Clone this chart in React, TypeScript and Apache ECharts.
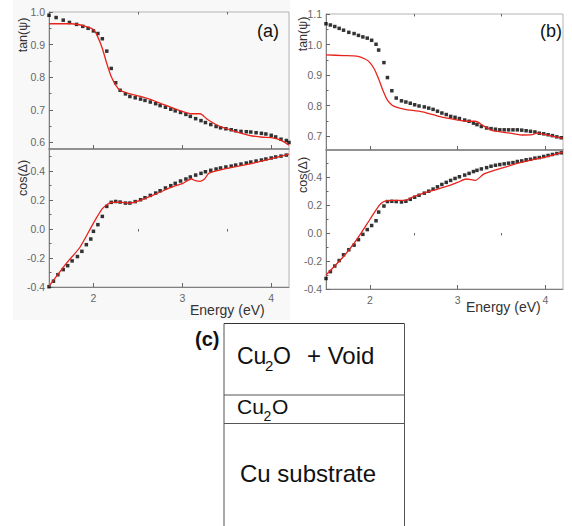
import React, { useEffect, useRef } from "react";
import * as echarts from "echarts";

// ---------- Panel (a) ----------
const aTanDotE = [1.5, 1.58, 1.66, 1.73, 1.81, 1.88, 1.94, 2.0, 2.05, 2.1, 2.15, 2.2, 2.25, 2.3, 2.36, 2.41, 2.47, 2.53, 2.58, 2.64, 2.7, 2.75, 2.81, 2.87, 2.92, 2.98, 3.04, 3.09, 3.15, 3.21, 3.26, 3.32, 3.38, 3.43, 3.49, 3.55, 3.6, 3.66, 3.72, 3.77, 3.83, 3.89, 3.94, 4.0, 4.05, 4.11, 4.17, 4.2];
const aTanDotV = [0.99, 0.983, 0.975, 0.968, 0.962, 0.956, 0.95, 0.942, 0.934, 0.918, 0.88, 0.827, 0.783, 0.76, 0.749, 0.741, 0.737, 0.733, 0.729, 0.724, 0.719, 0.713, 0.708, 0.702, 0.697, 0.692, 0.686, 0.68, 0.673, 0.667, 0.661, 0.655, 0.649, 0.645, 0.642, 0.639, 0.636, 0.634, 0.633, 0.632, 0.63, 0.628, 0.626, 0.622, 0.617, 0.61, 0.606, 0.6];
const aTanFitE = [1.5, 1.75, 1.9, 2.0, 2.05, 2.1, 2.15, 2.2, 2.25, 2.3, 2.4, 2.6, 2.8, 3.0, 3.1, 3.2, 3.28, 3.4, 3.6, 3.75, 3.9, 4.0, 4.1, 4.2];
const aTanFitV = [0.964, 0.964, 0.957, 0.946, 0.923, 0.888, 0.842, 0.802, 0.776, 0.76, 0.75, 0.736, 0.715, 0.695, 0.688, 0.688, 0.671, 0.652, 0.633, 0.622, 0.616, 0.615, 0.608, 0.592];

const aCosDotE = [1.5, 1.55, 1.6, 1.66, 1.71, 1.76, 1.82, 1.87, 1.92, 1.97, 2.0, 2.05, 2.1, 2.15, 2.2, 2.25, 2.3, 2.36, 2.41, 2.47, 2.53, 2.58, 2.64, 2.7, 2.75, 2.81, 2.87, 2.92, 2.98, 3.04, 3.09, 3.15, 3.21, 3.26, 3.32, 3.38, 3.43, 3.49, 3.55, 3.6, 3.66, 3.72, 3.77, 3.83, 3.89, 3.94, 4.0, 4.05, 4.11, 4.17];
const aCosDotV = [-0.398, -0.36, -0.315, -0.28, -0.253, -0.22, -0.19, -0.154, -0.108, -0.069, -0.016, 0.03, 0.087, 0.156, 0.184, 0.19, 0.186, 0.179, 0.179, 0.189, 0.202, 0.216, 0.232, 0.248, 0.264, 0.283, 0.299, 0.315, 0.331, 0.345, 0.359, 0.372, 0.384, 0.395, 0.405, 0.414, 0.421, 0.428, 0.434, 0.441, 0.448, 0.455, 0.462, 0.469, 0.476, 0.483, 0.49, 0.497, 0.503, 0.51];
const aCosFitE = [1.5, 1.7, 1.85, 2.0, 2.1, 2.15, 2.2, 2.3, 2.4, 2.5, 2.7, 2.9, 3.0, 3.1, 3.15, 3.2, 3.25, 3.3, 3.5, 3.8, 4.0, 4.2];
const aCosFitV = [-0.395, -0.234, -0.124, 0.041, 0.14, 0.168, 0.184, 0.186, 0.179, 0.193, 0.241, 0.294, 0.313, 0.345, 0.333, 0.329, 0.345, 0.386, 0.418, 0.455, 0.485, 0.517];

// ---------- Panel (b) ----------
const bDotE = [1.5, 1.55, 1.6, 1.65, 1.7, 1.76, 1.82, 1.87, 1.92, 1.97, 2.02, 2.07, 2.1, 2.16, 2.2, 2.25, 2.3, 2.36, 2.41, 2.46, 2.51, 2.56, 2.62, 2.67, 2.72, 2.77, 2.82, 2.87, 2.92, 2.97, 3.02, 3.08, 3.13, 3.18, 3.22, 3.27, 3.33, 3.38, 3.43, 3.48, 3.53, 3.58, 3.63, 3.68, 3.73, 3.78, 3.83, 3.88, 3.93, 3.98, 4.03, 4.08, 4.13, 4.18];
const bTanDotV = [1.068, 1.064, 1.059, 1.053, 1.047, 1.04, 1.036, 1.03, 1.025, 1.021, 1.014, 1.001, 0.982, 0.941, 0.892, 0.849, 0.825, 0.816, 0.812, 0.808, 0.803, 0.799, 0.796, 0.792, 0.788, 0.782, 0.776, 0.771, 0.765, 0.762, 0.758, 0.753, 0.749, 0.743, 0.738, 0.732, 0.727, 0.725, 0.723, 0.721, 0.721, 0.721, 0.721, 0.721, 0.72, 0.718, 0.716, 0.714, 0.71, 0.708, 0.705, 0.702, 0.698, 0.695];
const bTanFitE = [1.5, 1.7, 1.85, 1.95, 2.0, 2.05, 2.1, 2.15, 2.2, 2.25, 2.3, 2.4, 2.6, 2.8, 3.0, 3.1, 3.2, 3.3, 3.4, 3.6, 3.75, 3.85, 3.9, 4.0, 4.1, 4.2];
const bTanFitV = [0.966, 0.964, 0.962, 0.952, 0.941, 0.92, 0.887, 0.849, 0.818, 0.802, 0.795, 0.788, 0.78, 0.764, 0.753, 0.749, 0.749, 0.733, 0.718, 0.71, 0.704, 0.705, 0.71, 0.705, 0.699, 0.693];

const bCosDotV = [-0.325, -0.276, -0.236, -0.197, -0.156, -0.12, -0.087, -0.048, -0.01, 0.024, 0.053, 0.087, 0.149, 0.192, 0.224, 0.226, 0.224, 0.221, 0.226, 0.24, 0.255, 0.269, 0.284, 0.298, 0.313, 0.329, 0.346, 0.361, 0.375, 0.389, 0.401, 0.413, 0.425, 0.438, 0.447, 0.457, 0.466, 0.476, 0.483, 0.488, 0.493, 0.498, 0.502, 0.51, 0.514, 0.522, 0.526, 0.534, 0.538, 0.546, 0.553, 0.56, 0.567, 0.572];
const bCosFitE = [1.5, 1.7, 1.85, 2.0, 2.1, 2.15, 2.2, 2.4, 2.5, 2.7, 2.9, 3.0, 3.1, 3.2, 3.3, 3.5, 3.7, 3.9, 4.0, 4.2];
const bCosFitV = [-0.3, -0.168, -0.048, 0.096, 0.192, 0.221, 0.231, 0.233, 0.26, 0.3, 0.337, 0.361, 0.385, 0.375, 0.421, 0.462, 0.5, 0.529, 0.541, 0.577];

// ---------- Ticks ----------
const xLabels = [2, 3, 4];
const xMinor = [2.5, 3.5];
const aTanTicks = [0.6, 0.7, 0.8, 0.9, 1.0];
const aTanMinor = [0.65, 0.75, 0.85, 0.95];
const bTanTicks = [0.7, 0.8, 0.9, 1.0, 1.1];
const bTanMinor = [0.75, 0.85, 0.95, 1.05];
const cosTicks = [-0.4, -0.2, 0.0, 0.2, 0.4];
const cosMinor = [-0.3, -0.1, 0.1, 0.3, 0.5];

const zip = (e: number[], v: number[]) => e.map((x, i) => [x, v[i]]);

const FONT = "'Liberation Sans', Arial, sans-serif";

export default function App() {
  const ref = useRef<HTMLDivElement>(null);
  useEffect(() => {
    if (!ref.current) return;
    const chart = echarts.init(ref.current, undefined, { renderer: "svg" });

    const grids = [
      { left: 49, top: 12, width: 240, height: 137, ymin: 0.58, ymax: 1.0, ticks: aTanTicks, minor: aTanMinor, bottom: false },
      { left: 49, top: 149, width: 240, height: 138, ymin: -0.4, ymax: 0.552, ticks: cosTicks, minor: cosMinor, bottom: true },
      { left: 326, top: 14, width: 237, height: 136, ymin: 0.655, ymax: 1.1, ticks: bTanTicks, minor: bTanMinor, bottom: false },
      { left: 326, top: 150, width: 237, height: 139, ymin: -0.4, ymax: 0.592, ticks: cosTicks, minor: cosMinor, bottom: true },
    ];

    const xAxis: any[] = [];
    const yAxis: any[] = [];
    grids.forEach((g, i) => {
      xAxis[i] = {
        type: "value", gridIndex: i, min: 1.5, max: 4.2,
        splitLine: { show: false },
        axisLine: { show: true, onZero: false, lineStyle: { color: "#808080", width: g.bottom ? 1 : 1.5 } },
        axisTick: { show: true, inside: true, length: 4, customValues: xLabels, lineStyle: { color: "#666" } },
        axisLabel: { show: g.bottom, customValues: xLabels, color: "#666", fontSize: 10.5, fontFamily: FONT, margin: 5 },
      };
      xAxis[4 + i] = {
        type: "value", gridIndex: i, min: 1.5, max: 4.2,
        splitLine: { show: false },
        axisLine: { show: false },
        axisTick: { show: true, inside: true, length: 2.5, customValues: xMinor, lineStyle: { color: "#666" } },
        axisLabel: { show: false },
      };
      yAxis[i] = {
        type: "value", gridIndex: i, min: g.ymin, max: g.ymax,
        splitLine: { show: false },
        axisLine: { show: true, onZero: false, lineStyle: { color: "#808080" } },
        axisTick: { show: true, inside: true, length: 4, customValues: g.ticks, lineStyle: { color: "#666" } },
        axisLabel: {
          show: true, customValues: g.ticks, color: "#666", fontSize: 10.5, fontFamily: FONT, margin: 4,
          formatter: (v: number) => v.toFixed(1),
        },
      };
      yAxis[4 + i] = {
        type: "value", gridIndex: i, min: g.ymin, max: g.ymax, position: "left",
        splitLine: { show: false },
        axisLine: { show: false },
        axisTick: { show: true, inside: true, length: 2.5, customValues: g.minor, lineStyle: { color: "#666" } },
        axisLabel: { show: false },
      };
    });

    const dots = (i: number, e: number[], v: number[]) => ({
      type: "scatter", xAxisIndex: i, yAxisIndex: i, data: zip(e, v),
      symbol: "rect", symbolSize: 3.5, itemStyle: { color: "#000" }, z: 3,
    });
    const fit = (i: number, e: number[], v: number[]) => ({
      type: "line", xAxisIndex: i, yAxisIndex: i, data: zip(e, v),
      smooth: 0.25, showSymbol: false, lineStyle: { color: "#e8231c", width: 1.3 }, z: 4,
    });

    const txt = (x: number, y: number, text: string, size: number, opts: any = {}) => ({
      type: "text", x, y, rotation: opts.rotation || 0, z: 10,
      style: {
        text, fontSize: size, fontFamily: FONT, fontWeight: opts.weight || "normal",
        fill: opts.fill || "#111", align: opts.align || "left", verticalAlign: "middle",
      },
    });
    const line = (x1: number, y1: number, x2: number, y2: number, color = "#555") => ({
      type: "line", z: 5, shape: { x1, y1, x2, y2 }, style: { stroke: color, lineWidth: 1 },
    });

    chart.setOption({
      animation: false,
      backgroundColor: "#ffffff",
      grid: grids.map((g) => ({
        left: g.left, top: g.top, width: g.width, height: g.height,
        show: true, borderColor: "#b4b4b4", borderWidth: 1, backgroundColor: "transparent",
      })),
      xAxis,
      yAxis,
      series: [
        dots(0, aTanDotE, aTanDotV), fit(0, aTanFitE, aTanFitV),
        dots(1, aCosDotE, aCosDotV), fit(1, aCosFitE, aCosFitV),
        dots(2, bDotE, bTanDotV), fit(2, bTanFitE, bTanFitV),
        dots(3, bDotE, bCosDotV), fit(3, bCosFitE, bCosFitV),
      ],
      graphic: [
        { type: "rect", z: -10, shape: { x: 13, y: 0, width: 277, height: 320 }, style: { fill: "#f8f8f8" } },
        txt(257, 31, "(a)", 18),
        txt(540, 31, "(b)", 18),
        txt(23, 35, "tan(ψ)", 12.5, { rotation: Math.PI / 2, align: "center", fill: "#333" }),
        txt(23, 178, "cos(Δ)", 12.5, { rotation: Math.PI / 2, align: "center", fill: "#333" }),
        txt(303, 34, "tan(ψ)", 12.5, { rotation: Math.PI / 2, align: "center", fill: "#333" }),
        txt(303, 175, "cos(Δ)", 12.5, { rotation: Math.PI / 2, align: "center", fill: "#333" }),
        txt(190, 310, "Energy (eV)", 14, { fill: "#333" }),
        txt(466, 307, "Energy (eV)", 14, { fill: "#333" }),
        // panel (c)
        line(224, 323.5, 404.5, 323.5, "#333"),
        line(224, 323.5, 224, 526),
        line(404.5, 323.5, 404.5, 526),
        line(224, 395, 404.5, 395),
        line(224, 423.5, 404.5, 423.5),
        txt(195, 339, "(c)", 20, { weight: "bold" }),
        txt(237, 355.6, "Cu", 23),
        txt(265, 365, "2", 15),
        txt(273, 355.6, "O", 23),
        txt(307, 355.6, "+ Void", 24),
        txt(237, 406, "Cu", 21),
        txt(263.5, 415.5, "2", 14),
        txt(272, 406, "O", 21),
        txt(240, 473.6, "Cu substrate", 24),
      ],
    });
    return () => chart.dispose();
  }, []);
  return <div ref={ref} style={{ width: 572, height: 526, position: "absolute", left: 0, top: 0 }} />;
}
